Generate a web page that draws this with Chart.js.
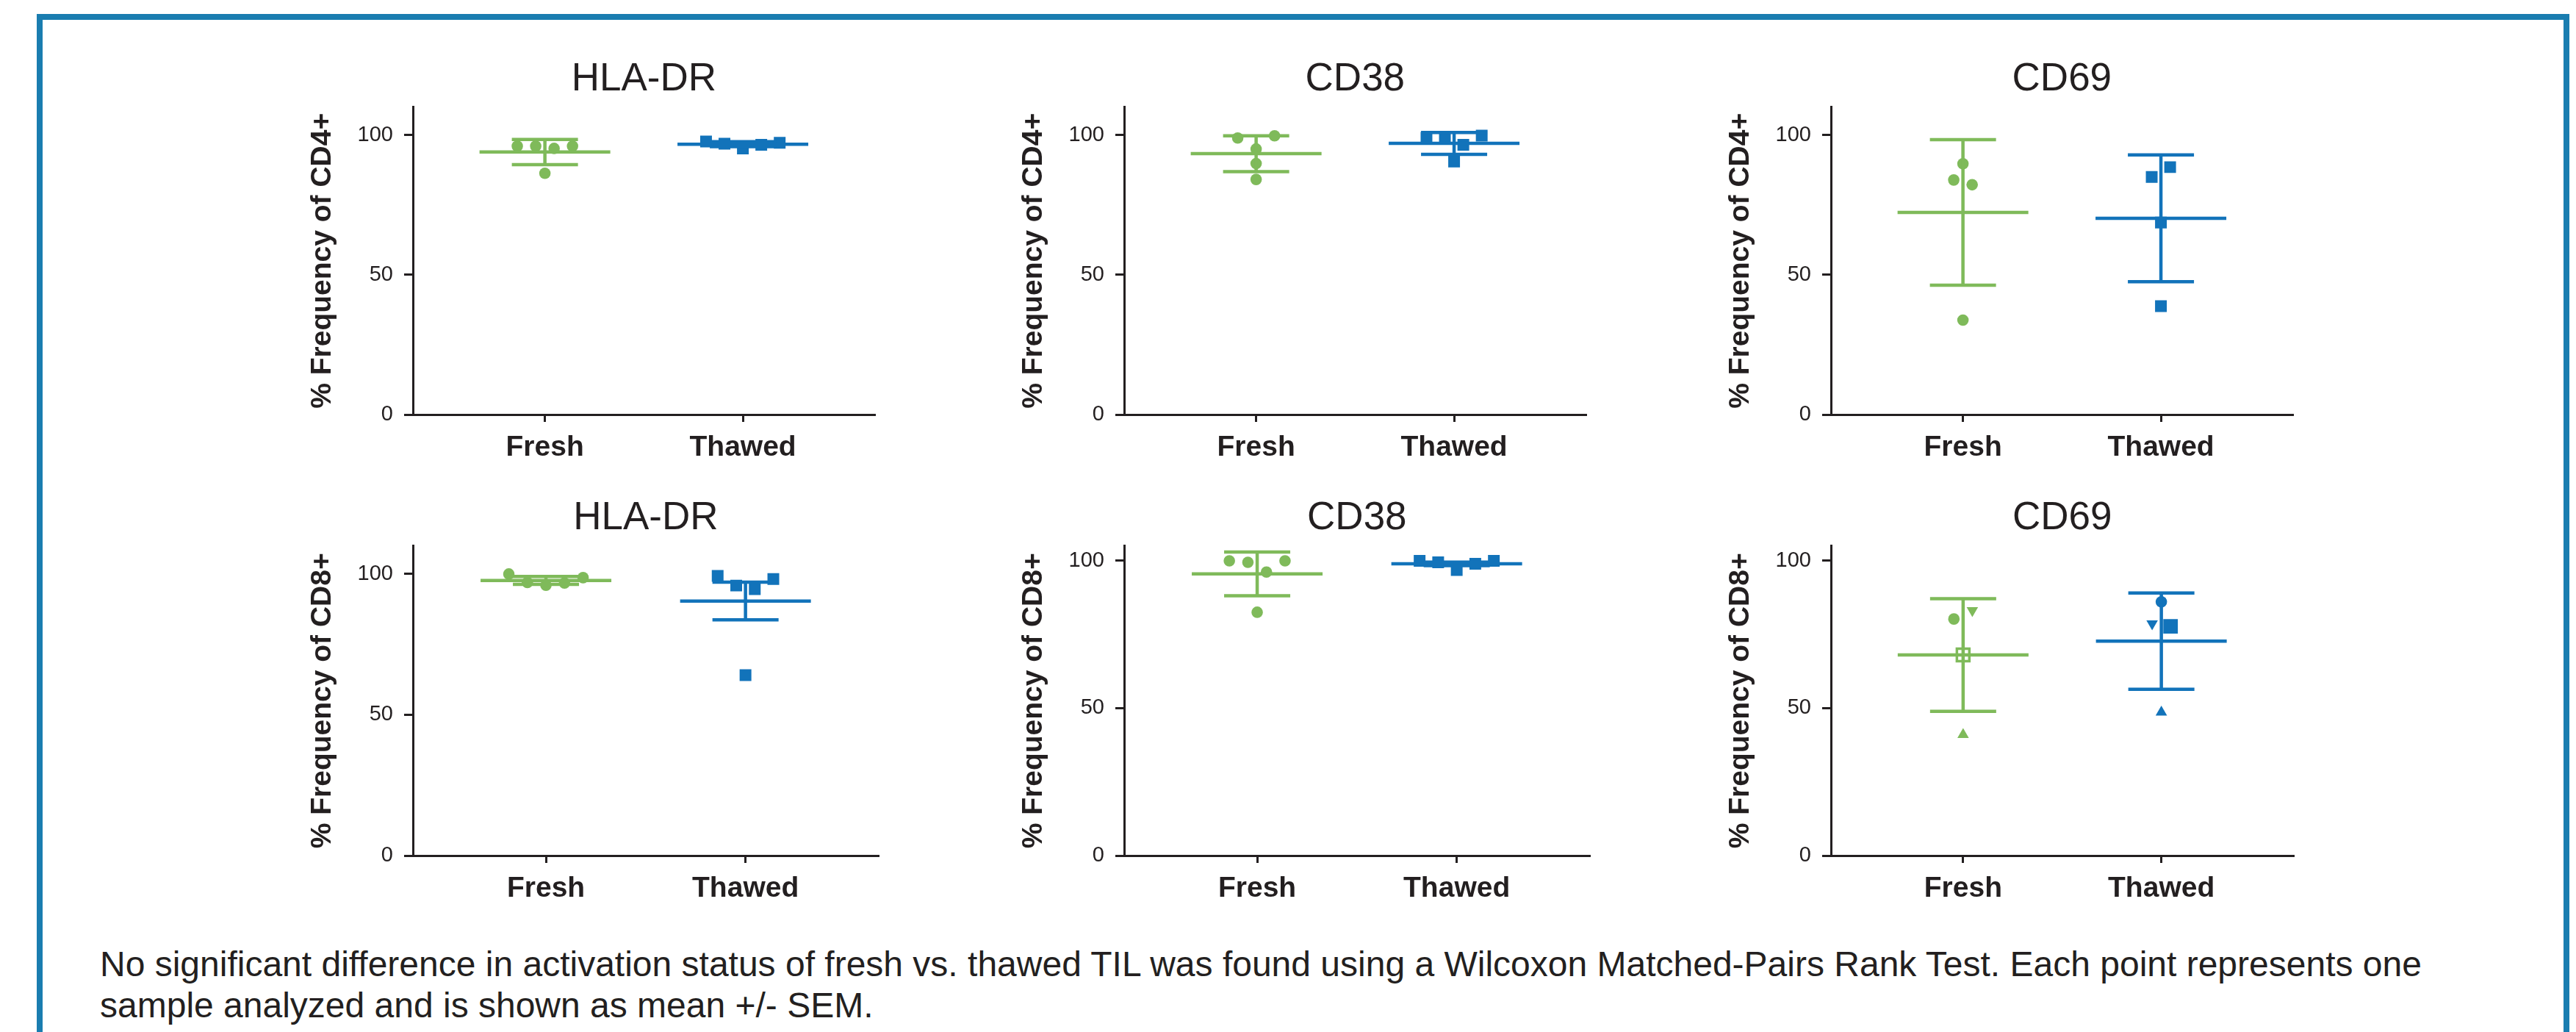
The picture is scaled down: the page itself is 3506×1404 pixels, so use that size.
<!DOCTYPE html>
<html>
<head>
<meta charset="utf-8">
<script src="https://cdn.jsdelivr.net/npm/chart.js@4.4.1/dist/chart.umd.min.js"></script>
<style>
  html, body { margin: 0; padding: 0; background: #fff; width: 3506px; height: 1404px; overflow: hidden; }
  #frame { position: absolute; left: 50px; top: 19px; width: 3431px; height: 1500px; border: 8px solid #1a7db0; }
  canvas { position: absolute; }
  #caption { position: absolute; left: 136px; top: 1284px; font: 48px "Liberation Sans", Arial, sans-serif;
             line-height: 56px; color: #231f20; white-space: nowrap; }
</style>
</head>
<body>
<div id="frame"></div>
<div id="caption">No significant difference in activation status of fresh vs. thawed TIL was found using a Wilcoxon Matched-Pairs Rank Test. Each point represents one<br>sample analyzed and is shown as mean +/- SEM.</div>
<script>
// groups on the x axis and y tick values
const groups = ['Fresh', 'Thawed'];
const yTicks = [0, 50, 100];

// CD4+ HLA-DR
const cd4HlaFresh = [96.0, 96.0, 95.2, 96.0, 86.3];
const cd4HlaThawed = [97.7, 96.9, 95.2, 96.5, 97.2];
const cd4HlaMean = [93.9, 96.7];
const cd4HlaSem = [4.5, 0.9];

// CD4+ CD38
const cd4Cd38Fresh = [98.9, 95.0, 99.7, 89.8, 84.1];
const cd4Cd38Thawed = [99.0, 99.0, 96.5, 99.8, 90.5];
const cd4Cd38Mean = [93.3, 97.0];
const cd4Cd38Sem = [6.4, 3.9];

// CD4+ CD69
const cd4Cd69Fresh = [89.7, 83.9, 82.2, 33.8];
const cd4Cd69Thawed = [85.0, 88.5, 68.7, 38.8];
const cd4Cd69Mean = [72.3, 70.2];
const cd4Cd69Sem = [26.0, 22.7];

// CD8+ HLA-DR
const cd8HlaFresh = [100.0, 97.0, 96.0, 96.8, 98.7];
const cd8HlaThawed = [99.3, 95.9, 94.6, 98.2, 64.1];
const cd8HlaMean = [97.7, 90.4];
const cd8HlaSem = [1.4, 6.7];

// CD8+ CD38
const cd8Cd38Fresh = [99.9, 99.4, 96.1, 99.9, 82.5];
const cd8Cd38Thawed = [99.9, 99.4, 96.8, 98.9, 99.9];
const cd8Cd38Mean = [95.5, 98.9];
const cd8Cd38Sem = [7.4, 0.6];

// CD8+ CD69
const cd8Cd69Fresh = [80.2, 83.1, 68.0, 41.0];
const cd8Cd69Thawed = [86.0, 78.6, 77.7, 48.6];
const cd8Cd69Mean = [68.0, 72.7];
const cd8Cd69Sem = [19.1, 16.3];

const ink = '#231f20';
const colors = ['#7fba5a', '#1273ba'];
const font = '"Liberation Sans", Arial, sans-serif';
Chart.defaults.font.family = font;
Chart.defaults.color = ink;

// marker shapes for the CD8 CD69 panel (one shape per sample)
const sampleShapes = ['circle', 'triangle', 'rect', 'triangle'];
const sampleRotation = [0, 180, 0, 0];

const areaLeft = [562, 1530, 2492];
const rowTop = [40, 637];
const rowBottom = [564, 1164];
const areaWidth = [630, 635];
const Y_BOX = 150, X_BOX = 100, PAD_R = 10;

const panels = [
  { title: 'HLA-DR', cell: 'CD4+', fresh: cd4HlaFresh, thawed: cd4HlaThawed, mean: cd4HlaMean, sem: cd4HlaSem, yMax: 110, col: 0, row: 0 },
  { title: 'CD38', cell: 'CD4+', fresh: cd4Cd38Fresh, thawed: cd4Cd38Thawed, mean: cd4Cd38Mean, sem: cd4Cd38Sem, yMax: 110, col: 1, row: 0 },
  { title: 'CD69', cell: 'CD4+', fresh: cd4Cd69Fresh, thawed: cd4Cd69Thawed, mean: cd4Cd69Mean, sem: cd4Cd69Sem, yMax: 110, col: 2, row: 0 },
  { title: 'HLA-DR', cell: 'CD8+', fresh: cd8HlaFresh, thawed: cd8HlaThawed, mean: cd8HlaMean, sem: cd8HlaSem, yMax: 110, col: 0, row: 1 },
  { title: 'CD38', cell: 'CD8+', fresh: cd8Cd38Fresh, thawed: cd8Cd38Thawed, mean: cd8Cd38Mean, sem: cd8Cd38Sem, yMax: 105, col: 1, row: 1 },
  { title: 'CD69', cell: 'CD8+', fresh: cd8Cd69Fresh, thawed: cd8Cd69Thawed, mean: cd8Cd69Mean, sem: cd8Cd69Sem, yMax: 105, col: 2, row: 1, shapes: true }
];

// spread points of similar value sideways, like a column scatter
const BIN = 5;
const STEP = 0.093;
function spread(values) {
  const order = values.map((v, i) => i).sort((a, b) => values[b] - values[a]);
  const rows = [];
  order.forEach(i => {
    const row = rows[rows.length - 1];
    if (row && values[i] >= row.top - BIN) row.idx.push(i);
    else rows.push({ top: values[i], idx: [i] });
  });
  const off = new Array(values.length).fill(0);
  rows.forEach(r => {
    r.idx.sort((a, b) => a - b);
    r.idx.forEach((i, k) => { off[i] = (k - (r.idx.length - 1) / 2) * STEP; });
  });
  return off;
}

function makeDataset(values, g, shaped) {
  const off = spread(values);
  const n = values.length;
  let style, radius, rotation, fill, border, bw;
  if (shaped) {
    style = sampleShapes;
    rotation = sampleRotation;
    radius = sampleShapes.map(s => s === 'rect' ? (g === 0 ? 12 : 14) : s === 'triangle' ? 9 : 7.8);
    fill = sampleShapes.map(s => (s === 'rect' && g === 0) ? '#ffffff' : colors[g]);
    bw = sampleShapes.map(s => (s === 'rect' && g === 0) ? 3.5 : 0);
  } else {
    style = g === 0 ? 'circle' : 'rect';
    rotation = 0;
    radius = g === 0 ? 7.8 : 11.3;
    fill = colors[g];
    bw = 0;
  }
  return {
    label: groups[g],
    data: values.map((v, i) => ({ x: g + 1 + off[i], y: v })),
    pointStyle: style,
    rotation: rotation,
    pointRadius: radius,
    pointBackgroundColor: fill,
    pointBorderColor: colors[g],
    pointBorderWidth: bw,
    showLine: false
  };
}

panels.forEach(p => {
  const cv = document.createElement('canvas');
  const left = areaLeft[p.col] - Y_BOX;
  const top = rowTop[p.row];
  const w = Y_BOX + areaWidth[p.row] + PAD_R;
  const h = rowBottom[p.row] - top + X_BOX;
  cv.width = w; cv.height = h;
  cv.style.left = left + 'px'; cv.style.top = top + 'px';
  cv.style.width = w + 'px'; cv.style.height = h + 'px';
  document.body.appendChild(cv);

  // mean line with error bars, drawn over the points
  const meanBars = {
    id: 'meanBars',
    afterDatasetsDraw(chart) {
      const { ctx, scales: { x, y } } = chart;
      ctx.save();
      ctx.lineWidth = 4.5;
      p.mean.forEach((m, g) => {
        const cx = x.getPixelForValue(g + 1);
        const ym = y.getPixelForValue(m);
        const yHi = y.getPixelForValue(m + p.sem[g]);
        const yLo = y.getPixelForValue(m - p.sem[g]);
        ctx.strokeStyle = colors[g];
        ctx.beginPath();
        ctx.moveTo(cx - 89, ym); ctx.lineTo(cx + 89, ym);
        ctx.moveTo(cx, yHi); ctx.lineTo(cx, yLo);
        ctx.moveTo(cx - 45, yHi); ctx.lineTo(cx + 45, yHi);
        ctx.moveTo(cx - 45, yLo); ctx.lineTo(cx + 45, yLo);
        ctx.stroke();
      });
      ctx.restore();
    }
  };

  new Chart(cv.getContext('2d'), {
    type: 'scatter',
    data: { datasets: [makeDataset(p.fresh, 0, p.shapes), makeDataset(p.thawed, 1, p.shapes)] },
    options: {
      responsive: false,
      devicePixelRatio: 1,
      animation: false,
      events: [],
      layout: { padding: { left: 0, right: PAD_R, top: 0, bottom: 0 } },
      plugins: {
        legend: { display: false },
        tooltip: { enabled: false },
        title: {
          display: true, text: p.title, fullSize: false, color: ink,
          font: { size: 53, weight: 'normal' },
          padding: { top: 37, bottom: 5 }
        }
      },
      scales: {
        x: {
          type: 'linear', min: 1 / 3, max: 8 / 3,
          afterBuildTicks: s => { s.ticks = groups.map((gname, i) => ({ value: i + 1 })); },
          afterFit: s => { s.height = X_BOX; },
          ticks: {
            callback: (v, i) => groups[i],
            font: { size: 39, weight: 'bold' }, color: ink,
            padding: 12, maxRotation: 0, autoSkip: false
          },
          grid: { display: true, drawOnChartArea: false, drawTicks: true, tickLength: 10,
                  tickWidth: 3, tickColor: ink, color: ink, lineWidth: 3 },
          border: { display: true, color: ink, width: 3 }
        },
        y: {
          min: 0, max: p.yMax,
          afterBuildTicks: s => { s.ticks = yTicks.map(v => ({ value: v })); },
          afterFit: s => { s.width = Y_BOX; },
          ticks: { font: { size: 29 }, color: ink, padding: 15 },
          grid: { display: true, drawOnChartArea: false, drawTicks: true, tickLength: 12,
                  tickWidth: 3, tickColor: ink, color: ink, lineWidth: 3 },
          border: { display: true, color: ink, width: 3 },
          title: {
            display: true, text: '% Frequency of ' + p.cell, color: ink,
            font: { size: 39, weight: 'bold' },
            padding: { top: 4, bottom: 0 }
          }
        }
      }
    },
    plugins: [meanBars]
  });
});
</script>
</body>
</html>
